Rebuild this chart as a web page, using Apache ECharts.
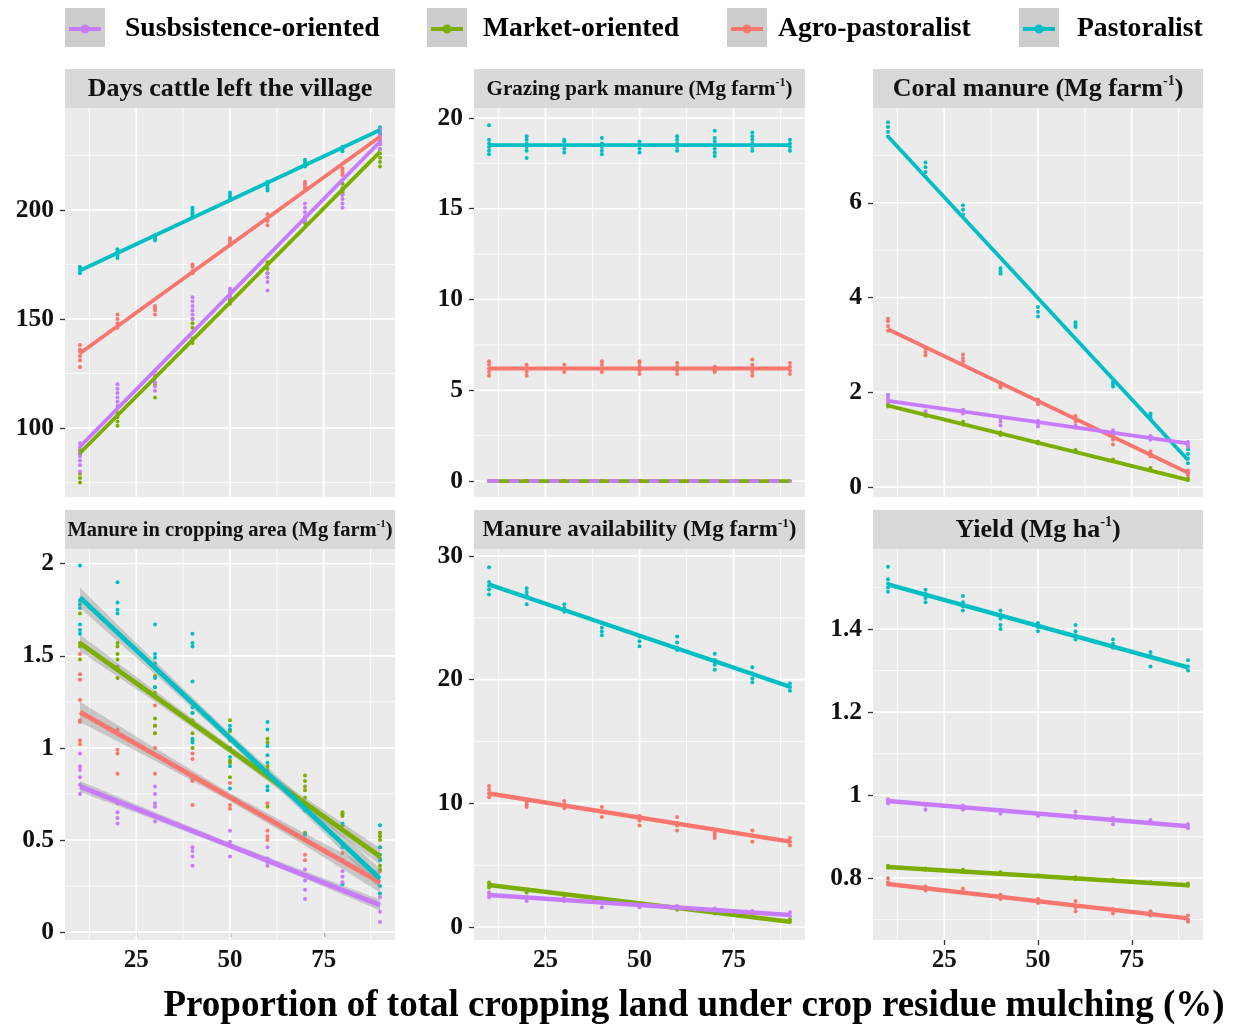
<!DOCTYPE html>
<html><head><meta charset="utf-8">
<script src="https://cdn.jsdelivr.net/npm/echarts@6/dist/echarts.min.js"></script>
<style>html,body{margin:0;padding:0;background:#fff}#c{width:1235px;height:1028px}</style>
</head><body><div id="c"></div>
<script>
// ---------- categories ----------
const legendOrder = ['Susbsistence-oriented', 'Market-oriented', 'Agro-pastoralist', 'Pastoralist'];
const drawOrder = ['Agro-pastoralist', 'Market-oriented', 'Pastoralist', 'Susbsistence-oriented'];
const groupColors = { 'Susbsistence-oriented': '#C77CFF', 'Market-oriented': '#7CAE00', 'Agro-pastoralist': '#F8766D', 'Pastoralist': '#00BFC4' };
const xLevels = [10, 20, 30, 40, 50, 60, 70, 80, 90];
const fitX = [10, 90];
const bandX = [10, 30, 50, 70, 90];
const xMajor = [25, 50, 75];
const xMinor = [12.5, 37.5, 62.5, 87.5];

// ---------- Panel 1: Days cattle left the village ----------
const daysAgro = [[128,131,133,135,136,138],[146,148,150,152],[152,154,155,156],[171,172,174,175],[184,185,186,187],[193,195,196,198],[210,211,212,213],[216,217,218,219],[231,232,233,234,235]];
const daysMkt = [[75,77,79,88,90],[101,103,105,107],[114,120,123],[139,141,146,148,150],[157,158,159,160],[171,173,175,176],[194,195,196],[207,208,209,210,212],[220,222,224,226,228]];
const daysPast = [[171,172,173,174],[178,179,180,181,182],[186,187,188],[197,198,199,200,201],[205,206,207,208],[209,210,211,212,213],[220,221,222,223],[227,228,229],[235,236,237,238]];
const daysSub = [[80,83,85,87,89,91,93],[110,112,114,116,118,120],[117,119,121,124,126],[150,152,154,156,158,160],[160,161,162,163,164],[163,167,169,171],[195,197,199,201,203],[201,203,205,207,210],[228,230,232,234,236,237]];
const daysFit = [[134.3,233.6],[88.5,226.7],[172.2,236.7],[91.4,231.3]];

// ---------- Panel 2: Grazing park manure ----------
const grazAgro = [[5.8,6.0,6.2,6.4,6.6],[5.8,6.0,6.2,6.4],[6.0,6.2,6.4],[6.0,6.2,6.4,6.6],[5.9,6.1,6.3,6.5,6.6],[5.9,6.1,6.3,6.5],[6.0,6.1,6.3],[5.8,6.0,6.2,6.4,6.7],[5.9,6.1,6.3,6.5]];
const grazMkt = [[0],[0],[0],[0],[0],[0],[0],[0],[0]];
const grazPast = [[18.0,18.2,18.4,18.6,18.8,19.6],[17.8,18.2,18.4,18.6,18.8,19.0],[18.1,18.3,18.5,18.7,18.8],[18.0,18.2,18.4,18.6,18.9],[18.1,18.3,18.5,18.7],[18.2,18.4,18.6,18.8,19.0],[17.9,18.1,18.3,18.5,18.7,18.9,19.3],[18.2,18.4,18.6,18.8,19.0,19.2],[18.2,18.4,18.6,18.8]];
const grazSub = [[0],[0],[0],[0],[0],[0],[0],[0],[0]];
const grazFit = [[6.2,6.2],[0,0],[18.5,18.5],[0,0]];

// ---------- Panel 3: Coral manure ----------
const coralAgro = [[3.3,3.4,3.5,3.55],[2.78,2.85,2.92],[2.65,2.72,2.8],[2.1,2.15,2.2],[1.75,1.8,1.85],[1.38,1.45,1.5],[0.9,1.0,1.1],[0.65,0.7,0.75],[0.25,0.3,0.35]];
const coralMkt = [[1.7,1.75],[1.5,1.55],[1.32,1.38],[1.1,1.15],[0.92,0.96],[0.75,0.78],[0.55,0.58],[0.36,0.4],[0.15,0.18]];
const coralPast = [[7.4,7.5,7.6,7.7],[6.55,6.65,6.75,6.85],[5.75,5.85,5.95],[4.5,4.55,4.62],[3.6,3.7,3.8],[3.38,3.42,3.48],[2.12,2.18,2.22],[1.45,1.5,1.55],[0.5,0.6,0.7,0.8]];
const coralSub = [[1.8,1.85,1.9,1.95],[1.55,1.6],[1.55,1.6,1.63],[1.3,1.38,1.45],[1.28,1.33,1.4],[1.25,1.3],[1.1,1.15,1.2],[1.0,1.05,1.08],[0.85,0.9,0.95]];
const coralFit = [[3.33,0.30],[1.72,0.15],[7.40,0.57],[1.82,0.92]];

// ---------- Panel 4: Manure in cropping area ----------
const cropAgro = [[1.51,1.40,1.37,1.26,1.15,1.14,1.04,1.02],[1.10,0.99,0.97,0.86],[1.23,1.12,1.08,1.00,0.86],[0.97,0.94,0.83,0.82,0.69],[0.81,0.69,0.67],[0.70,0.55,0.52,0.50],[0.42,0.39],[0.39,0.43],[0.54,0.52,0.46,0.33]];
const cropMkt = [[1.73,1.57,1.55,1.48],[1.57,1.55,1.51,1.48,1.44,1.38],[1.44,1.39,1.33,1.30,1.16,1.12,1.08],[1.19,1.15,1.08,1.04,1.00],[1.15,1.09,1.04,0.93,0.92,0.84],[1.05,1.03,0.90,0.88,0.68],[0.85,0.82,0.79,0.77,0.73,0.54,0.53],[0.65,0.64,0.63,0.58],[0.54,0.52,0.50,0.40,0.36,0.34]];
const cropPast = [[1.99,1.80,1.78,1.76,1.67,1.64,1.62],[1.90,1.79,1.75,1.73],[1.67,1.51,1.49,1.46,1.38,1.33],[1.62,1.57,1.55,1.36,1.22,1.19,1.05,1.03],[1.12,1.10,1.05,1.00,0.95,0.90,0.78],[1.14,1.10,1.01,0.96,0.92,0.79,0.77],[0.70,0.66,0.53],[0.59,0.46,0.26],[0.58,0.46,0.42,0.39,0.25,0.21]];
const cropSub = [[0.97,0.90,0.88,0.84,0.80,0.75],[0.70,0.65,0.62,0.59],[0.79,0.75,0.70,0.68,0.60],[0.55,0.46,0.44,0.41,0.36],[0.55,0.49,0.41],[0.46,0.40,0.38,0.36],[0.34,0.31,0.28,0.23,0.18],[0.33,0.30,0.27],[0.19,0.11,0.055]];
const cropFit = [[1.194,0.27],[1.569,0.41],[1.817,0.29],[0.79,0.147]];
const cropBandLow = [[1.14,0.93,0.71,0.47,0.215],[1.525,1.25,0.97,0.67,0.365],[1.76,1.40,1.03,0.64,0.235],[0.76,0.61,0.455,0.29,0.117]];
const cropBandHigh = [[1.25,1.0,0.755,0.535,0.325],[1.615,1.31,1.01,0.73,0.455],[1.87,1.47,1.08,0.71,0.345],[0.82,0.65,0.485,0.33,0.177]];

// ---------- Panel 5: Manure availability ----------
const availAgro = [[11.4,11.1,10.8,10.5],[10.1,9.9,9.7],[10.2,9.9,9.6],[9.7,9.3,8.9],[9.0,8.6,8.2],[8.9,8.4,8.2,7.8],[7.6,7.4,7.2],[7.8,7.4,6.9],[7.2,6.9,6.6]];
const availMkt = [[3.6,3.4,3.2],[3.0,2.8],[2.7,2.5],[2.2,2.0],[1.9,1.8],[1.6,1.4],[1.3,1.1],[1.0,0.9],[0.6,0.4]];
const availPast = [[29.1,27.9,27.6,27.3,26.9],[27.4,27.1,26.8,26.1],[26.1,25.8,25.5],[24.6,24.2,23.9,23.6],[23.5,23.1,22.7],[23.5,23.0,22.6,22.4],[22.1,21.6,21.2,20.8],[21.0,20.5,20.1,19.8],[19.7,19.4,19.1]];
const availSub = [[2.8,2.6,2.4],[2.4,2.1],[2.3,2.1],[2.0,1.6],[1.8,1.6],[1.7,1.5],[1.5,1.3],[1.3,1.1],[1.2,0.9]];
const availFit = [[10.8,6.9],[3.4,0.43],[27.7,19.43],[2.59,0.97]];

// ---------- Panel 6: Yield ----------
const yieldAgro = [[0.80,0.79,0.785],[0.78,0.77],[0.775,0.765],[0.76,0.75],[0.75,0.74],[0.745,0.73,0.72],[0.725,0.715],[0.72,0.71],[0.71,0.70,0.695]];
const yieldMkt = [[0.83,0.825],[0.823,0.82],[0.82,0.816],[0.814,0.81],[0.807],[0.802,0.798],[0.797,0.793],[0.79,0.788],[0.787,0.782]];
const yieldPast = [[1.55,1.52,1.51,1.50,1.49],[1.495,1.485,1.475,1.465],[1.48,1.465,1.455,1.445],[1.445,1.435,1.425,1.41,1.40],[1.415,1.405,1.395],[1.41,1.395,1.385,1.375],[1.375,1.365,1.355],[1.345,1.335,1.31],[1.325,1.31,1.30]];
const yieldSub = [[0.99,0.985,0.98],[0.975,0.965],[0.975,0.965],[0.965,0.955],[0.955,0.95],[0.96,0.95,0.945],[0.945,0.94,0.93],[0.94,0.935],[0.93,0.925,0.92]];
const yieldFit = [[0.786,0.703],[0.827,0.783],[1.508,1.308],[0.986,0.925]];

// ---------- tick labels ----------
const yMajor1 = [100, 150, 200], yMinor1 = [75, 125, 175, 225];
const yMajor2 = [0, 5, 10, 15, 20], yMinor2 = [2.5, 7.5, 12.5, 17.5];
const yMajor3 = [0, 2, 4, 6], yMinor3 = [1, 3, 5, 7];
const yMajor4 = [0, 0.5, 1, 1.5, 2], yMinor4 = [0.25, 0.75, 1.25, 1.75];
const yMajor5 = [0, 10, 20, 30], yMinor5 = [5, 15, 25];
const yMajor6 = [0.8, 1, 1.2, 1.4], yMinor6 = [0.7, 0.9, 1.1, 1.3, 1.5];

// ---------- panel descriptions ----------
const SERIF = '"Liberation Serif", "Times New Roman", serif';
const panels = [
  { title: ['Days cattle left the village', '', ''], fs: 26, pts: [daysAgro, daysMkt, daysPast, daysSub], fit: daysFit, yMajor: yMajor1, yMinor: yMinor1, yr: [68.3, 246.8], lw: 3.8 },
  { title: ['Grazing park manure (Mg farm', '-1', ')'], fs: 21, pts: [grazAgro, grazMkt, grazPast, grazSub], fit: grazFit, yMajor: yMajor2, yMinor: yMinor2, yr: [-0.88, 20.55], lw: 3.8 },
  { title: ['Coral manure (Mg farm', '-1', ')'], fs: 26, pts: [coralAgro, coralMkt, coralPast, coralSub], fit: coralFit, yMajor: yMajor3, yMinor: yMinor3, yr: [-0.21, 8.0], lw: 3.8 },
  { title: ['Manure in cropping area (Mg farm', '-1', ')'], fs: 20.5, pts: [cropAgro, cropMkt, cropPast, cropSub], fit: cropFit, yMajor: yMajor4, yMinor: yMinor4, yr: [-0.043, 2.08], band: [cropBandLow, cropBandHigh], lw: 4.8 },
  { title: ['Manure availability (Mg farm', '-1', ')'], fs: 23, pts: [availAgro, availMkt, availPast, availSub], fit: availFit, yMajor: yMajor5, yMinor: yMinor5, yr: [-1.05, 30.57], lw: 4.4 },
  { title: ['Yield (Mg ha', '-1', ')'], fs: 26, pts: [yieldAgro, yieldMkt, yieldPast, yieldSub], fit: yieldFit, yMajor: yMajor6, yMinor: yMinor6, yr: [0.651, 1.593], lw: 4.4 }
];
const xRange = [6, 94];
const gLeft = [65, 474, 873, 65, 474, 873];
const gTop = [108, 108, 108, 549, 549, 549];
const gW = [330, 331, 330, 330, 331, 330];
const gH = [389, 389, 389, 391, 391, 391];
const stripH = 39;

const grids = [], xAxes = [], yAxes = [], series = [], graphics = [];
function gridLine(i, data, width) {
  series.push({ type: 'line', xAxisIndex: i, yAxisIndex: i, data, symbol: 'none', silent: true, z: 1,
    lineStyle: { color: '#FFFFFF', width, type: 'solid' }, emphasis: { disabled: true } });
}
panels.forEach((p, i) => {
  const bottomRow = i >= 3;
  grids.push({ left: gLeft[i], top: gTop[i], width: gW[i], height: gH[i], show: true, backgroundColor: '#EBEBEB', borderWidth: 0, containLabel: false });
  xAxes.push({
    type: 'value', gridIndex: i, min: xRange[0], max: xRange[1],
    axisLine: { show: false },
    axisTick: { show: bottomRow, customValues: xMajor, length: 5, lineStyle: { color: '#333', width: 1.3 } },
    axisLabel: { show: bottomRow, customValues: xMajor, fontSize: 25, fontWeight: 'bold', fontFamily: SERIF, color: '#111', margin: 8 },
    splitLine: { show: false }
  });
  yAxes.push({
    type: 'value', gridIndex: i, min: p.yr[0], max: p.yr[1],
    axisLine: { show: false },
    axisTick: { show: true, customValues: p.yMajor, length: 5, lineStyle: { color: '#333', width: 1.3 } },
    axisLabel: { customValues: p.yMajor, fontSize: 25.5, fontWeight: 'bold', fontFamily: SERIF, color: '#111', margin: 11 },
    splitLine: { show: false }
  });
  // panel grid lines (minor then major), drawn through the axes' scales
  xMinor.forEach(v => gridLine(i, [[v, p.yr[0]], [v, p.yr[1]]], 0.8));
  p.yMinor.forEach(v => gridLine(i, [[xRange[0], v], [xRange[1], v]], 0.8));
  xMajor.forEach(v => gridLine(i, [[v, p.yr[0]], [v, p.yr[1]]], 1.7));
  p.yMajor.forEach(v => gridLine(i, [[xRange[0], v], [xRange[1], v]], 1.7));
  // points
  drawOrder.forEach((g, gi) => {
    const data = [];
    p.pts[gi].forEach((vals, k) => vals.forEach(v => data.push([xLevels[k], v])));
    series.push({ type: 'scatter', name: g, xAxisIndex: i, yAxisIndex: i, data, symbolSize: 4, itemStyle: { color: groupColors[g], opacity: 1 }, z: 2, silent: true });
  });
  // bands + fitted lines
  drawOrder.forEach((g, gi) => {
    if (p.band) {
      const lo = p.band[0][gi], hi = p.band[1][gi];
      series.push({
        type: 'custom', xAxisIndex: i, yAxisIndex: i, silent: true, z: 3,
        data: bandX.map((x, k) => [x, lo[k], hi[k]]),
        encode: { x: 0, y: [1, 2] },
        renderItem: (params, api) => {
          if (params.dataIndex !== 0) return null;
          const pts = [];
          for (let k = 0; k < bandX.length; k++) pts.push(api.coord([bandX[k], hi[k]]));
          for (let k = bandX.length - 1; k >= 0; k--) pts.push(api.coord([bandX[k], lo[k]]));
          return { type: 'polygon', shape: { points: pts }, style: { fill: 'rgba(153,153,153,0.45)' } };
        }
      });
    }
    const dashed = (i === 1 && g === 'Susbsistence-oriented');
    series.push({
      type: 'line', name: g, xAxisIndex: i, yAxisIndex: i,
      data: fitX.map((x, k) => [x, p.fit[gi][k]]),
      symbol: 'none', silent: true, z: 3,
      lineStyle: { color: groupColors[g], width: p.lw, type: dashed ? [10, 10] : 'solid', cap: 'butt' }
    });
  });
  // strip
  graphics.push({ type: 'rect', shape: { x: gLeft[i], y: gTop[i] - stripH, width: gW[i], height: stripH }, style: { fill: '#D9D9D9' }, silent: true });
  const t = p.title;
  const txt = t[1] ? '{a|' + t[0] + '}{s|' + t[1] + '}{a|' + t[2] + '}' : '{a|' + t[0] + '}';
  graphics.push({
    type: 'text', silent: true,
    style: {
      text: txt, x: gLeft[i] + gW[i] / 2, y: gTop[i] - stripH / 2 + 1,
      align: 'center', verticalAlign: 'middle', textAlign: 'center', textVerticalAlign: 'middle',
      rich: {
        a: { fontSize: p.fs, fontWeight: 'bold', fontFamily: SERIF, fill: '#111', lineHeight: p.fs + 4 },
        s: { fontSize: Math.round(p.fs * 0.55), fontWeight: 'bold', fontFamily: SERIF, fill: '#111', lineHeight: Math.round(p.fs * 0.55) + 2, verticalAlign: 'top' }
      }
    }
  });
});

// legend keys
const keyLeft = [65, 427, 727, 1019];
const textLeft = [125, 483, 778, 1077];
const legends = legendOrder.map((name, k) => {
  graphics.push({ type: 'rect', shape: { x: keyLeft[k], y: 8, width: 40, height: 39 }, style: { fill: '#CDCDCD' }, silent: true, z: -1 });
  const iconLeft = keyLeft[k] + 4;
  return {
    data: [name], left: iconLeft, top: 15, padding: 0, selectedMode: false,
    icon: 'path://M0,2.5L32,2.5L32,6.5L0,6.5Z M16,0A4.5,4.5 0 1,1 15.99,0Z',
    itemWidth: 32, itemHeight: 9,
    formatter: n => '{t|' + n + '}',
    textStyle: { rich: { t: { fontSize: 27.6, fontWeight: 'bold', fontFamily: SERIF, color: '#000', lineHeight: 32, padding: [0, 0, 0, textLeft[k] - (iconLeft + 32 + 5)] } } }
  };
});

// axis title
graphics.push({
  type: 'text', silent: true,
  style: { text: 'Proportion of total cropping land under crop residue mulching (%)', x: 694, y: 1006, align: 'center', verticalAlign: 'middle', textAlign: 'center', textVerticalAlign: 'middle', font: 'bold 37px "Liberation Serif", serif', fill: '#000' }
});

const chart = echarts.init(document.getElementById('c'), null, { renderer: 'canvas' });
chart.setOption({
  animation: false,
  backgroundColor: '#fff',
  grid: grids, xAxis: xAxes, yAxis: yAxes,
  legend: legends,
  graphic: { elements: graphics },
  series
});
</script></body></html>
